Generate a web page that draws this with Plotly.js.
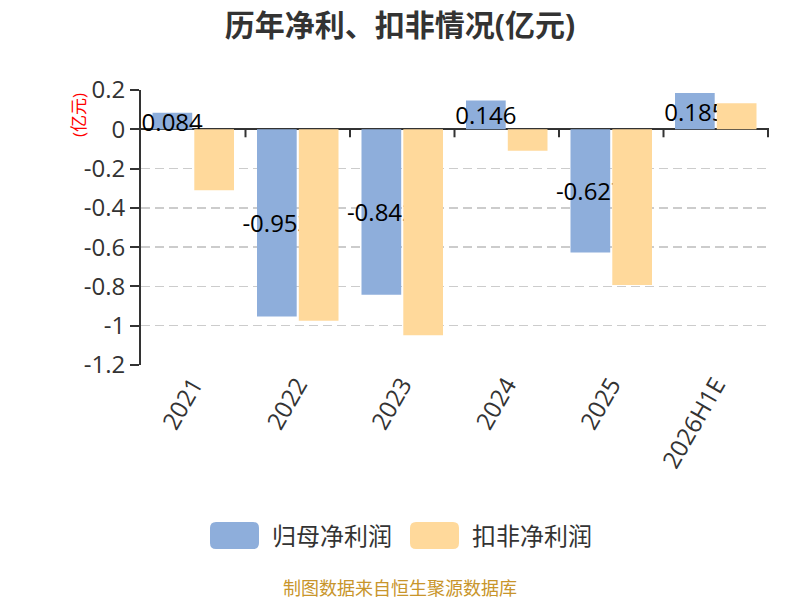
<!DOCTYPE html>
<html>
<head>
<meta charset="utf-8">
<script src="https://cdn.plot.ly/plotly-3.0.1.min.js"></script>
<style>
  html, body { margin: 0; padding: 0; background: #fff; }
  #chart { width: 800px; height: 600px; }
</style>
</head>
<body>
<div id="chart"></div>
<script>
var years = ['2021', '2022', '2023', '2024', '2025', '2026H1E'];
var netProfit = [0.084, -0.953, -0.842, 0.146, -0.627, 0.185];
var deductedProfit = [-0.31, -0.975, -1.048, -0.109, -0.793, 0.132];
var seriesNames = ['归母净利润', '扣非净利润'];
var yTickVals = [0.2, 0, -0.2, -0.4, -0.6, -0.8, -1, -1.2];
var yTickText = ['0.2', '0', '-0.2', '-0.4', '-0.6', '-0.8', '-1', '-1.2'];

var blue = 'rgb(142,174,219)';
var yellow = 'rgb(255,217,155)';
var fontFamily = '"Open Sans", "Noto Sans CJK SC", sans-serif';

var data = [
    {
        x: years,
        y: netProfit,
        name: seriesNames[0],
        type: 'bar',
        marker: {color: blue},
        text: netProfit.map(function(v) { return String(v); }),
        textposition: 'inside',
        insidetextanchor: 'middle',
        constraintext: 'none',
        textangle: 0,
        textfont: {size: 24, color: '#000', family: fontFamily},
        cliponaxis: false,
        hoverinfo: 'none',
        showlegend: false,
    },
    {
        x: years,
        y: deductedProfit,
        name: seriesNames[1],
        type: 'bar',
        marker: {color: yellow},
        hoverinfo: 'none',
        showlegend: false,
    }
];

// plot box in pixels, used to place the hand made legend
var W = 800, H = 600;
var m = {l: 141, r: 31, t: 90, b: 235};
var pw = W - m.l - m.r;
var ph = H - m.t - m.b;
function px(x) { return (x - m.l) / pw; }
function py(y) { return (H - m.b - y) / ph; }

function roundRect(x0, y0, x1, y1, r) {
    var rx = r / pw, ry = r / ph;
    var a = px(x0), b = px(x1), top = py(y0), bot = py(y1);
    return 'M' + (a + rx) + ',' + top +
        ' L' + (b - rx) + ',' + top +
        ' Q' + b + ',' + top + ' ' + b + ',' + (top - ry) +
        ' L' + b + ',' + (bot + ry) +
        ' Q' + b + ',' + bot + ' ' + (b - rx) + ',' + bot +
        ' L' + (a + rx) + ',' + bot +
        ' Q' + a + ',' + bot + ' ' + a + ',' + (bot + ry) +
        ' L' + a + ',' + (top - ry) +
        ' Q' + a + ',' + top + ' ' + (a + rx) + ',' + top + ' Z';
}

var shapes = [];
// tick marks on the zero line, at category boundaries
for (var i = 0; i < years.length; i++) {
    shapes.push({
        type: 'line', xref: 'x', yref: 'y',
        ysizemode: 'pixel', yanchor: 0,
        x0: i + 0.5, x1: i + 0.5, y0: 0, y1: -8,
        line: {color: '#333', width: 2},
    });
}

var legendX = [210, 410];
var legendColors = [blue, yellow];
var annotations = [];
for (var k = 0; k < seriesNames.length; k++) {
    shapes.push({
        type: 'path', xref: 'paper', yref: 'paper',
        path: roundRect(legendX[k], 522, legendX[k] + 49, 549, 6),
        fillcolor: legendColors[k],
        line: {width: 0},
    });
    annotations.push({
        xref: 'paper', yref: 'paper',
        x: px(legendX[k] + 60), y: py(535.5),
        xanchor: 'left', yanchor: 'middle',
        text: seriesNames[k], showarrow: false,
        font: {size: 24, color: '#333', family: fontFamily},
    });
}

annotations.push({
    xref: 'paper', yref: 'paper',
    x: px(78), y: py(115),
    xanchor: 'center', yanchor: 'middle',
    textangle: -90,
    text: '(亿元)', showarrow: false,
    font: {size: 17, color: 'red', family: fontFamily},
});

annotations.push({
    xref: 'paper', yref: 'paper',
    x: px(400), y: py(588),
    xanchor: 'center', yanchor: 'middle',
    text: '制图数据来自恒生聚源数据库', showarrow: false,
    font: {size: 18, color: '#c8952b', family: fontFamily},
});

var layout = {
    width: W,
    height: H,
    margin: m,
    paper_bgcolor: '#fff',
    plot_bgcolor: '#fff',
    font: {family: fontFamily, color: '#333'},
    title: {
        text: '历年净利、扣非情况(亿元)',
        x: 0.5, xanchor: 'center',
        y: 1 - 25 / H, yanchor: 'middle',
        font: {size: 30, color: '#333', weight: 'bold', family: fontFamily},
    },
    barmode: 'group',
    bargap: 0.2,
    bargroupgap: 0.05,
    showlegend: false,
    xaxis: {
        type: 'category',
        fixedrange: true,
        showline: false,
        showgrid: false,
        zeroline: false,
        ticks: '',
        tickangle: -60,
        tickfont: {size: 24, color: '#333'},
    },
    yaxis: {
        fixedrange: true,
        autorange: false,
        range: [-1.2, 0.2],
        tickvals: yTickVals,
        ticktext: yTickText,
        showline: true,
        linecolor: '#333',
        linewidth: 2,
        ticks: 'outside',
        ticklen: 9,
        tickwidth: 2,
        tickcolor: '#333',
        tickfont: {size: 24, color: '#333'},
        showgrid: true,
        gridcolor: '#ccc',
        gridwidth: 1.5,
        griddash: '9px,5px',
        zeroline: true,
        zerolinecolor: '#333',
        zerolinewidth: 2,
    },
    shapes: shapes,
    annotations: annotations,
};

Plotly.newPlot('chart', data, layout, {displayModeBar: false, staticPlot: true});
</script>
</body>
</html>
